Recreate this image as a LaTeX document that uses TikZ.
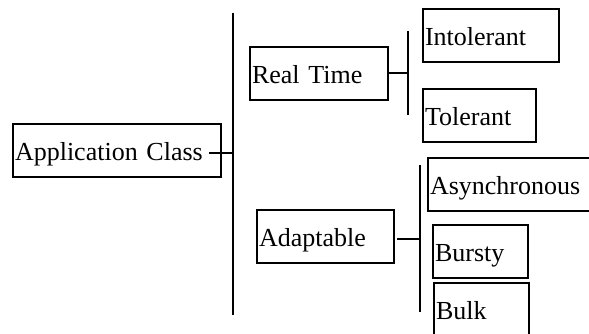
\documentclass[tikz,border=0pt]{standalone}
\usepackage{fontspec}
\setmainfont{Liberation Serif}
\usetikzlibrary{positioning}
\tikzset{
        classbox/.style={align=left,inner xsep=2pt,inner ysep=0pt},
        % Class boxes
        node_class/.style={classbox, rectangle, black, draw=black, line width=2pt, anchor=north west,
                minimum height=53pt, text height=24pt, text depth=4pt, font=\fontsize{26}{30}\selectfont},
        % Bus bars
        line_bus/.style={black, line width=2pt}
}
\begin{document}
\begin{tikzpicture}[x=1pt, y=-1pt]
        \useasboundingbox (0,0) rectangle (589,334);
        \clip (0,0) rectangle (589,334);
            % Boxes
            \node[node_class, text width=204pt] (app) at (12,123) {Application Class};
            \node[node_class, text width=134pt] (realtime) at (249,46) {Real Time};
            \node[node_class, text width=132pt] (intolerant) at (422,8) {Intolerant};
            \node[node_class, text width=109pt] (tolerant) at (422,88) {Tolerant};
            \node[node_class, text width=133pt] (adaptable) at (256,209) {Adaptable};
            \node[node_class, text width=180pt] (async) at (427,157) {Asynchronous};
            \node[node_class, text width=91pt] (bursty) at (432,224) {Bursty};
            \node[node_class, text width=91pt] (bulk) at (433,282) {Bulk};
            % Bus bars
            \coordinate (bus_a_top) at (233,13);
            \coordinate (bus_a_bot) at (233,315);
            \coordinate (bus_b_top) at (408,31);
            \coordinate (bus_b_bot) at (408,115);
            \coordinate (bus_c_top) at (420,165);
            \coordinate (bus_c_bot) at (420,312);
            \draw[line_bus] (bus_a_top) -- (bus_a_bot);
            \draw[line_bus] (bus_b_top) -- (bus_b_bot);
            \draw[line_bus] (bus_c_top) -- (bus_c_bot);
            % Connectors
            \coordinate (app_out) at (209,153);
            \coordinate (adaptable_out) at (397,239);
            \draw[line_bus] (app_out) -- (app_out -| bus_a_top);
            \draw[line_bus] (realtime.east) -- (realtime.east -| bus_b_top);
            \draw[line_bus] (adaptable_out) -- (adaptable_out -| bus_c_top);
\end{tikzpicture}
\end{document}
